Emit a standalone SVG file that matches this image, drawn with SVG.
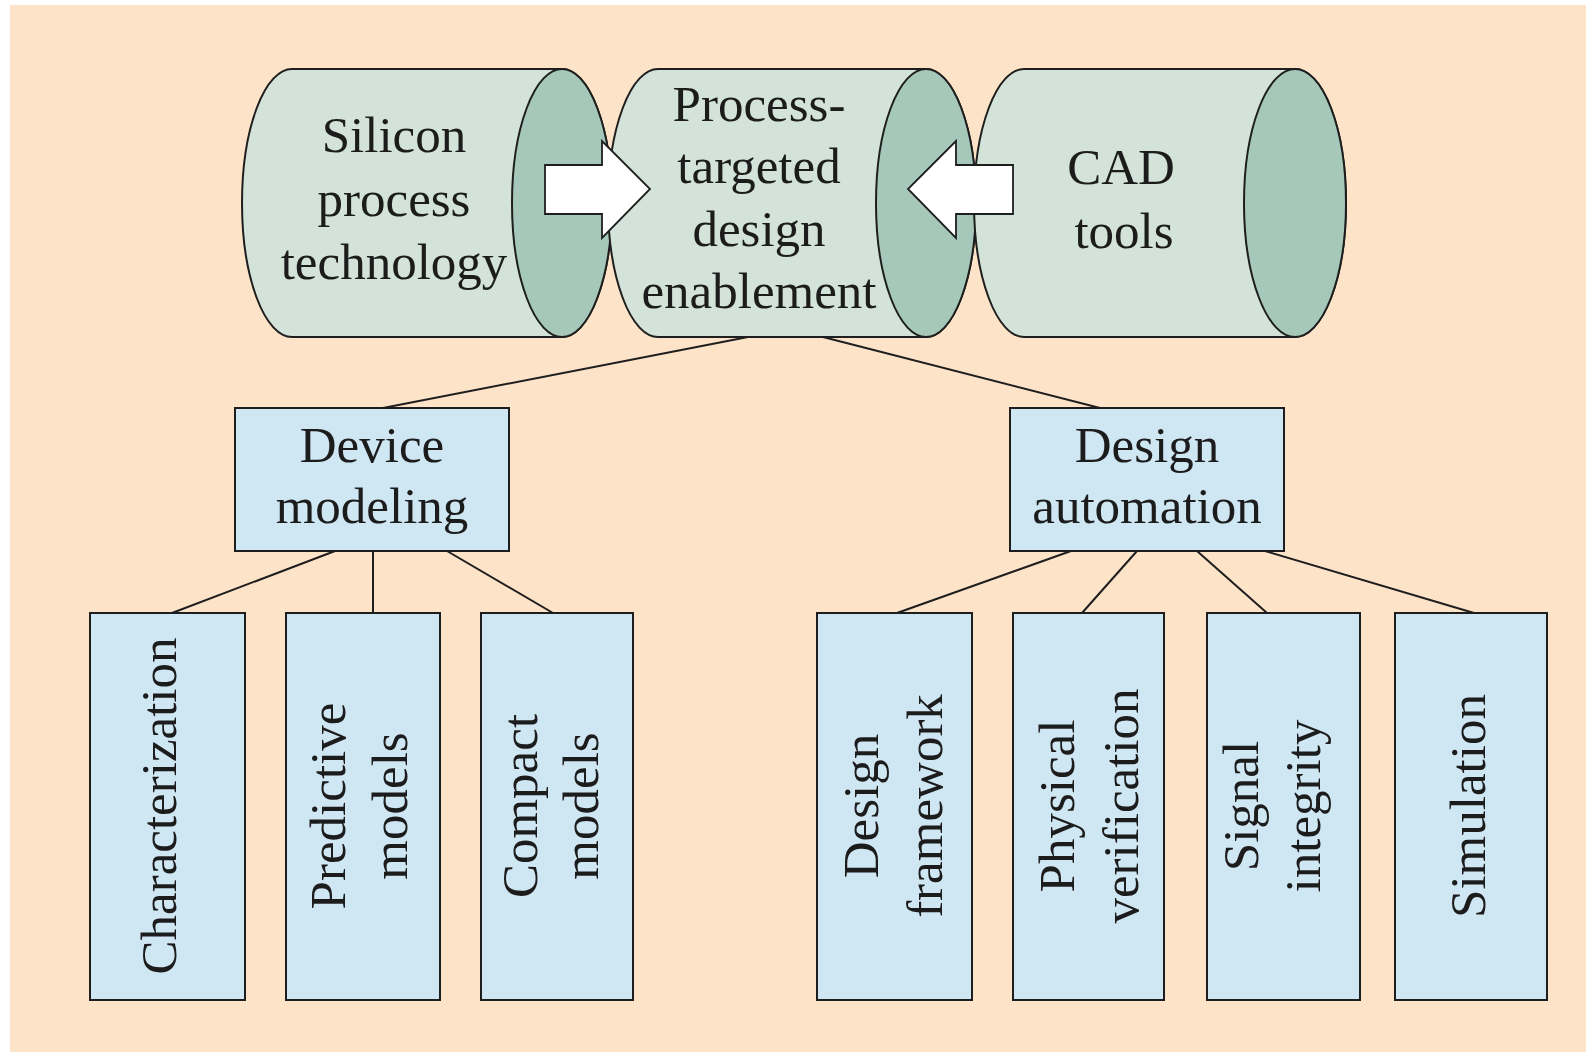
<svg xmlns="http://www.w3.org/2000/svg" width="1586" height="1052" viewBox="0 0 1586 1052">
  <style>
    .txt { font-family: "Liberation Serif", "Times New Roman", serif; font-size: 51px; fill: #1c1c1c; text-anchor: middle; }
    .body { fill: #d3e3d9; stroke: #1e1e1e; stroke-width: 2; }
    .end { fill: #a6c8bb; stroke: #1e1e1e; stroke-width: 2; }
    .box { fill: #cfe6f3; stroke: #1e1e1e; stroke-width: 2; }
    .arrow { fill: #ffffff; stroke: #1e1e1e; stroke-width: 1.8; stroke-linejoin: miter; }
    .link { stroke: #1e1e1e; stroke-width: 2; fill: none; }
  </style>

  <!-- page background -->
  <rect x="0" y="0" width="1586" height="1052" fill="#ffffff"/>
  <rect x="10" y="5" width="1576" height="1047" fill="#fde4c9"/>

  <!-- connectors -->
  <g id="connectors">
    <line class="link" x1="748" y1="337" x2="383" y2="408"/>
    <line class="link" x1="823" y1="337" x2="1100" y2="408"/>
    <line class="link" x1="335" y1="551" x2="172" y2="613"/>
    <line class="link" x1="373" y1="551" x2="373" y2="613"/>
    <line class="link" x1="447" y1="551" x2="553" y2="613"/>
    <line class="link" x1="1071" y1="551" x2="897" y2="613"/>
    <line class="link" x1="1137" y1="551" x2="1082" y2="613"/>
    <line class="link" x1="1197" y1="551" x2="1267" y2="613"/>
    <line class="link" x1="1265" y1="551" x2="1474" y2="613"/>
  </g>

  <!-- cylinder: silicon process technology -->
  <g id="silicon">
    <path class="body" d="M292,69 L562,69 A50,134 0 0 1 562,337 L292,337 A50,134 0 0 1 292,69 Z"/>
    <ellipse class="end" cx="562" cy="203" rx="50" ry="134"/>
    <text class="txt" x="394" y="152">Silicon</text>
    <text class="txt" x="394" y="216">process</text>
    <text class="txt" x="394" y="279">technology</text>
  </g>

  <!-- cylinder: process-targeted design enablement -->
  <g id="ptde">
    <path class="body" d="M658,69 L926,69 A50,134 0 0 1 926,337 L658,337 A50,134 0 0 1 658,69 Z"/>
    <ellipse class="end" cx="926" cy="203" rx="50" ry="134"/>
    <text class="txt" x="759" y="121">Process-</text>
    <text class="txt" x="759" y="183">targeted</text>
    <text class="txt" x="759" y="246">design</text>
    <text class="txt" x="759" y="308">enablement</text>
  </g>

  <!-- cylinder: CAD tools -->
  <g id="cad">
    <path class="body" d="M1024,69 L1295,69 A51,134 0 0 1 1295,337 L1024,337 A50,134 0 0 1 1024,69 Z"/>
    <ellipse class="end" cx="1295" cy="203" rx="51" ry="134"/>
    <text class="txt" x="1121" y="184">CAD</text>
    <text class="txt" x="1124" y="248">tools</text>
  </g>

  <!-- block arrows feeding the centre cylinder -->
  <g id="arrow-in-left">
    <polygon class="arrow" points="545,165 602,165 602,141 650,189 602,238 602,214 545,214"/>
  </g>
  <g id="arrow-in-right">
    <polygon class="arrow" points="1013,165 956,165 956,141 908,189 956,238 956,214 1013,214"/>
  </g>

  <!-- second level -->
  <g id="device-modeling">
    <rect class="box" x="235" y="408" width="274" height="143"/>
    <text class="txt" x="372" y="462">Device</text>
    <text class="txt" x="372" y="523">modeling</text>
  </g>
  <g id="design-automation">
    <rect class="box" x="1010" y="408" width="274" height="143"/>
    <text class="txt" x="1147" y="462">Design</text>
    <text class="txt" x="1147" y="523">automation</text>
  </g>

  <!-- leaves (vertical labels) -->
  <g id="characterization">
    <rect class="box" x="90" y="613" width="155" height="387"/>
    <text class="txt" transform="translate(176,806) rotate(-90)">Characterization</text>
  </g>
  <g id="predictive-models">
    <rect class="box" x="286" y="613" width="154" height="387"/>
    <text class="txt" transform="translate(345,806) rotate(-90)">Predictive</text>
    <text class="txt" transform="translate(407,806) rotate(-90)">models</text>
  </g>
  <g id="compact-models">
    <rect class="box" x="481" y="613" width="152" height="387"/>
    <text class="txt" transform="translate(537,806) rotate(-90)">Compact</text>
    <text class="txt" transform="translate(598,806) rotate(-90)">models</text>
  </g>
  <g id="design-framework">
    <rect class="box" x="817" y="613" width="155" height="387"/>
    <text class="txt" transform="translate(878,806) rotate(-90)">Design</text>
    <text class="txt" transform="translate(942,806) rotate(-90)">framework</text>
  </g>
  <g id="physical-verification">
    <rect class="box" x="1013" y="613" width="151" height="387"/>
    <text class="txt" transform="translate(1074,806) rotate(-90)">Physical</text>
    <text class="txt" transform="translate(1138,806) rotate(-90)">verification</text>
  </g>
  <g id="signal-integrity">
    <rect class="box" x="1207" y="613" width="153" height="387"/>
    <text class="txt" transform="translate(1258,806) rotate(-90)">Signal</text>
    <text class="txt" transform="translate(1320,806) rotate(-90)">integrity</text>
  </g>
  <g id="simulation">
    <rect class="box" x="1395" y="613" width="152" height="387"/>
    <text class="txt" transform="translate(1485,806) rotate(-90)">Simulation</text>
  </g>
</svg>
